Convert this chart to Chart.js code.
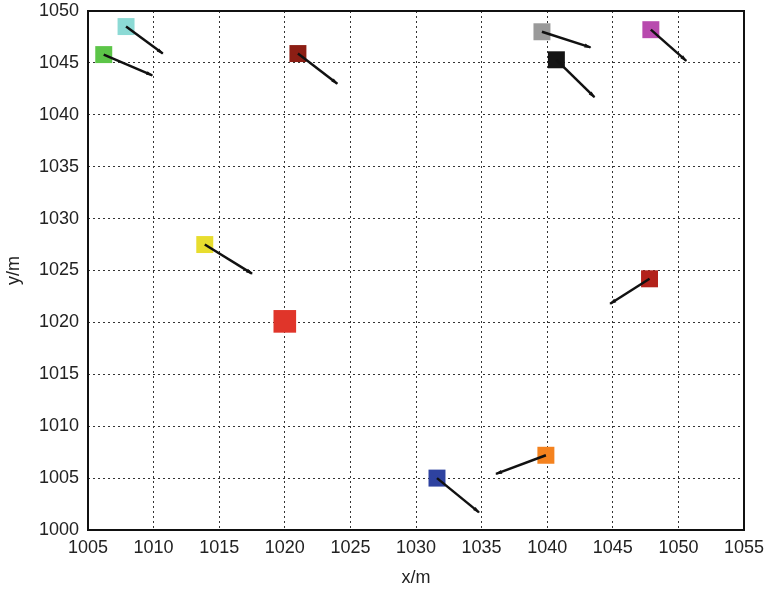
<!DOCTYPE html>
<html>
<head>
<meta charset="utf-8">
<script src="https://cdn.jsdelivr.net/npm/chart.js@4.4.1/dist/chart.umd.min.js"></script>
<style>
  body { margin: 0; background: #fff; }
  canvas { display: block; }
</style>
</head>
<body>
<canvas id="myChart" width="768" height="590"></canvas>
<script>
// node positions (square markers)
const nodeX = [1007.9, 1006.2, 1021.0, 1039.6, 1040.7, 1047.9, 1013.9, 1020.0, 1031.6, 1039.9, 1047.8];
const nodeY = [1048.5, 1045.8, 1045.9, 1048.0, 1045.3, 1048.2, 1027.5, 1020.1, 1005.0, 1007.2, 1024.2];
const nodeColors = ['#8cdad5', '#5cc548', '#8c1e14', '#9a9a9a', '#141414', '#b84aae', '#e8dd2e', '#e0352a', '#2e42a0', '#f4821e', '#b3221b'];
const nodeSizes = [12, 12, 12, 12, 12, 12, 12, 16, 12, 12, 12];

// arrow tips (null = no arrow)
const tipX = [1010.7, 1009.9, 1024.0, 1043.3, 1043.6, 1050.6, 1017.5, null, 1034.8, 1036.1, 1044.8];
const tipY = [1045.9, 1043.8, 1043.0, 1046.5, 1041.7, 1045.2, 1024.7, null, 1001.7, 1005.4, 1021.8];

const xTicks = [1005, 1010, 1015, 1020, 1025, 1030, 1035, 1040, 1045, 1050, 1055];
const yTicks = [1000, 1005, 1010, 1015, 1020, 1025, 1030, 1035, 1040, 1045, 1050];

const datasets = [];
for (let i = 0; i < nodeX.length; i++) {
    if (tipX[i] === null) continue;
    datasets.push({
        type: 'line',
        data: [{x: nodeX[i], y: nodeY[i]}, {x: tipX[i], y: tipY[i]}],
        borderColor: '#111',
        borderWidth: 2.5,
        pointRadius: 0,
        fill: false,
        order: 0,
        isArrow: true
    });
}
for (let i = 0; i < nodeX.length; i++) {
    datasets.push({
        type: 'scatter',
        data: [{x: nodeX[i], y: nodeY[i]}],
        pointStyle: 'rect',
        pointRadius: nodeSizes[i],
        pointBackgroundColor: nodeColors[i],
        pointBorderWidth: 0,
        order: 1
    });
}

// small arrow heads + frame around the plot
const extras = {
    id: 'extras',
    afterDatasetsDraw(chart) {
        const ctx = chart.ctx;
        chart.data.datasets.forEach((ds, i) => {
            if (!ds.isArrow) return;
            const pts = chart.getDatasetMeta(i).data;
            const a = pts[0], b = pts[1];
            const ang = Math.atan2(b.y - a.y, b.x - a.x);
            ctx.save();
            ctx.translate(b.x, b.y);
            ctx.rotate(ang);
            ctx.fillStyle = '#111';
            ctx.beginPath();
            ctx.moveTo(1, 0);
            ctx.lineTo(-6, -2);
            ctx.lineTo(-6, 2);
            ctx.closePath();
            ctx.fill();
            ctx.restore();
        });
        const c = chart.chartArea;
        ctx.save();
        ctx.strokeStyle = '#111';
        ctx.lineWidth = 2;
        ctx.strokeRect(c.left, c.top, c.right - c.left, c.bottom - c.top);
        ctx.restore();
    }
};

const font = {family: '"Liberation Sans", Arial, sans-serif', size: 18};

new Chart(document.getElementById('myChart').getContext('2d'), {
    type: 'scatter',
    data: {datasets: datasets},
    options: {
        responsive: false,
        animation: false,
        layout: {autoPadding: false, padding: {top: 11, right: 24, left: 0, bottom: 0}},
        plugins: {legend: {display: false}, tooltip: {enabled: false}},
        scales: {
            x: {
                type: 'linear',
                min: 1005,
                max: 1055,
                afterBuildTicks: (s) => { s.ticks = xTicks.map(v => ({value: v})); },
                afterFit: (s) => { s.height = 60; s.paddingLeft = 0; s.paddingRight = 0; },
                ticks: {color: '#222', font: font, padding: 7, maxRotation: 0, callback: (v) => String(v)},
                grid: {color: '#333', lineWidth: 1, drawTicks: false},
                border: {display: false, dash: [2, 3]},
                title: {display: true, text: 'x/m', color: '#222', font: font, padding: {top: 0, bottom: 1}}
            },
            y: {
                type: 'linear',
                min: 1000,
                max: 1050,
                afterBuildTicks: (s) => { s.ticks = yTicks.map(v => ({value: v})); },
                afterFit: (s) => { s.width = 88; s.paddingTop = 0; s.paddingBottom = 0; },
                ticks: {color: '#222', font: font, padding: 9, callback: (v) => String(v)},
                grid: {color: '#333', lineWidth: 1, drawTicks: false},
                border: {display: false, dash: [2, 3]},
                title: {display: true, text: 'y/m', color: '#222', font: font, padding: {top: 3, bottom: 0}}
            }
        }
    },
    plugins: [extras]
});
</script>
</body>
</html>
